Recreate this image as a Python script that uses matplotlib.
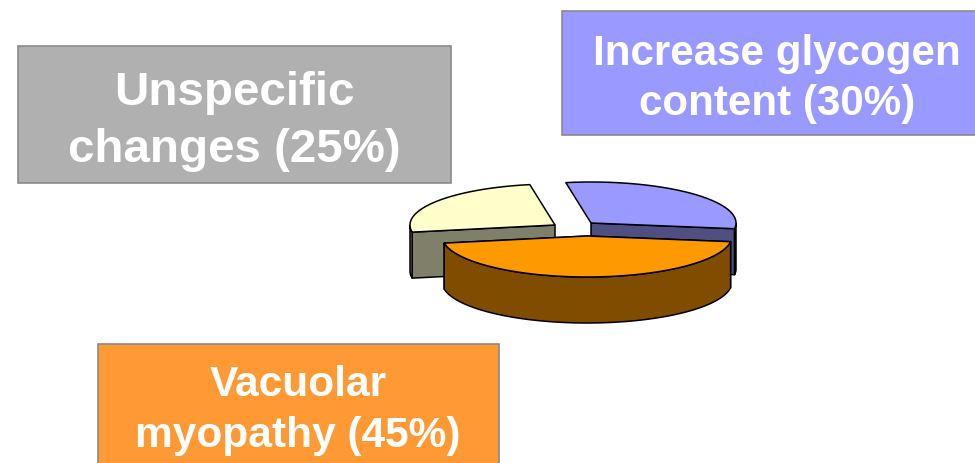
import numpy as np
import matplotlib
matplotlib.use("Agg")
import matplotlib.pyplot as plt
from matplotlib.patches import Polygon, Rectangle

# Findings and their shares (%)
findings = ["Increase glycogen\ncontent", "Vacuolar\nmyopathy", "Unspecific\nchanges"]
shares = [30, 45, 25]

# Slice colours: top face and shaded side
top_colors = ["#9999FF", "#FF9900", "#FFFFCC"]
side_colors = ["#4F4F82", "#804D00", "#80806A"]

# Label boxes: left, top, right, bottom in pixels, fill, text centre, font size
box_layout = [
    (562, 11, 980, 135, "#9999FF", 777, 30.3),
    (98, 344, 499, 470, "#FF9933", 298, 30.6),
    (18, 46, 451, 183, "#B0B0B0", 234, 34.2),
]
line_y = [(49, 99), (380, 432), (88, 145)]

# Pie geometry in pixels
RX, RY, DEPTH = 145, 41, 46
START_ANGLE = 100
slice_origins = [(591, 223), (587, 236), (555, 225)]
draw_order = [2, 0, 1]

fig = plt.figure(figsize=(9.75, 4.63), dpi=100)
ax = fig.add_axes([0, 0, 1, 1])
ax.set_xlim(0, 975)
ax.set_ylim(463, 0)
ax.axis("off")


def rim(cx, cy, t):
    return np.column_stack([cx + RX * np.cos(t), cy - RY * np.sin(t)])


def add_face(points, color, z):
    ax.add_patch(Polygon(points, closed=True, facecolor=color, edgecolor="black",
                         linewidth=1.1, joinstyle="round", zorder=z))


# Each slice runs clockwise from where the previous one ended
ends = START_ANGLE - np.cumsum(shares) * 3.6
starts = np.r_[START_ANGLE, ends[:-1]]

for rank, i in enumerate(draw_order):
    cx, cy = slice_origins[i]
    t = np.radians(np.linspace(starts[i], ends[i], 160))
    z = 2 + rank
    arc = rim(cx, cy, t)
    apex = np.array([[cx, cy]])
    drop = np.array([0, DEPTH])

    # Cut faces of the slice, pushed down by the pie depth; only those
    # reaching the front half of the rim are shown
    for end, angle in ((arc[:1], t[0]), (arc[-1:], t[-1])):
        if np.sin(angle) < 0:
            add_face(np.vstack([apex, end, end + drop, apex + drop]), side_colors[i], z)

    # Outer wall, only where the rim faces the viewer
    front = arc[np.sin(t) <= 0]
    if len(front) > 1:
        add_face(np.vstack([front, front[::-1] + drop]), side_colors[i], z)

    add_face(np.vstack([apex, arc]), top_colors[i], z + 0.5)

# Label boxes with their percentage captions
for name, share, box, ys in zip(findings, shares, box_layout, line_y):
    left, top, right, bottom, fill, xc, size = box
    ax.add_patch(Rectangle((left, top), right - left, bottom - top, facecolor=fill,
                           edgecolor="#8A8A8A", linewidth=1.2, zorder=1))
    lines = f"{name} ({share}%)".split("\n")
    for line, y in zip(lines, ys):
        ax.text(xc, y, line, color="white", family="Liberation Sans", weight="bold",
                fontsize=size, ha="center", va="center_baseline", zorder=10)

fig.savefig("out.png", dpi=100)
